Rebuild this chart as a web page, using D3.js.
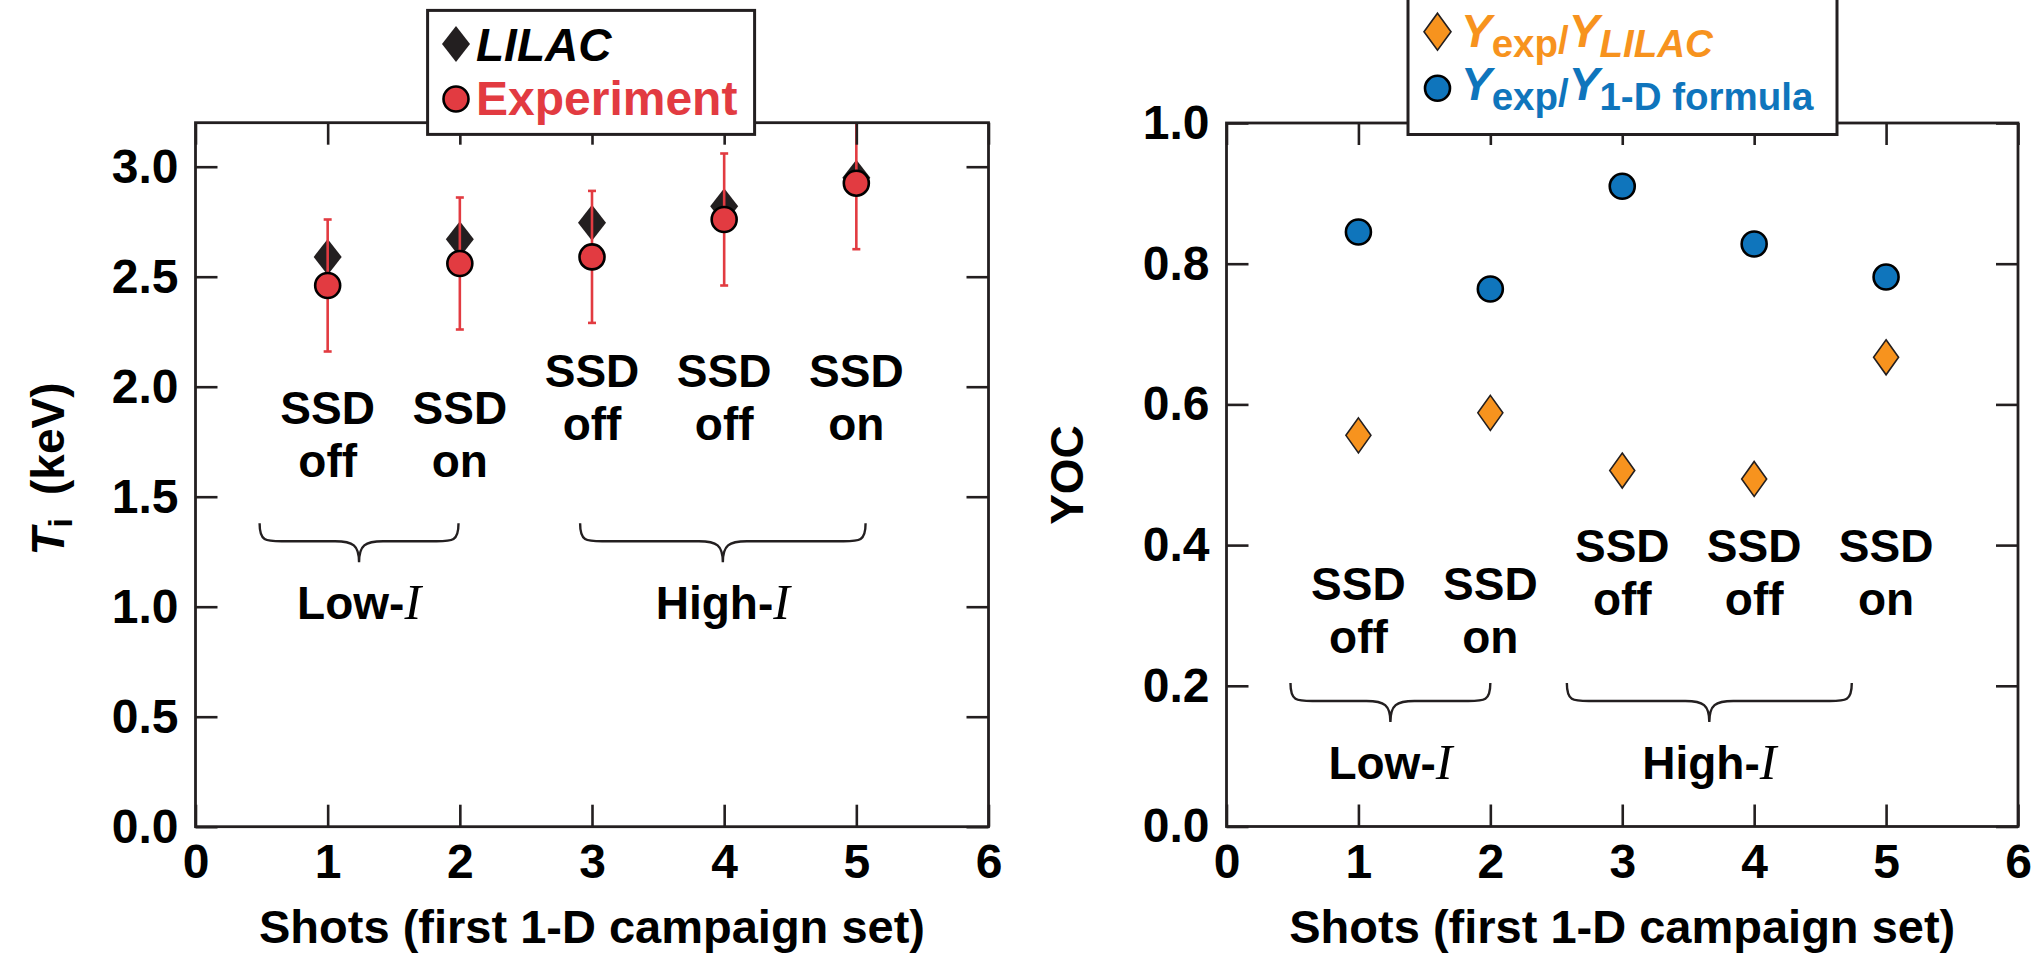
<!DOCTYPE html>
<html>
<head>
<meta charset="utf-8">
<script src="https://cdn.jsdelivr.net/npm/d3@7"></script>
<style>
	body { margin: 0; background: #fff; }
	text { font-family: 'Liberation Sans', Arial, Helvetica, sans-serif; font-weight: bold; }
</style>
</head>
<body>
<div id="chart"></div>
<script>
// values
let shots = [1, 2, 3, 4, 5]
let ssdState = ['off', 'on', 'off', 'off', 'on']
let tiLilac = [2.59, 2.67, 2.745, 2.82, 2.95]
let tiExp = [2.46, 2.56, 2.59, 2.76, 2.925]
let tiErr = [0.3, 0.3, 0.3, 0.3, 0.3]
let yocLilac = [0.556, 0.588, 0.506, 0.494, 0.667]
let yocFormula = [0.845, 0.764, 0.91, 0.828, 0.781]

let xTicks = [0, 1, 2, 3, 4, 5, 6]
let tiTicks = [0, 0.5, 1, 1.5, 2, 2.5, 3]
let yocTicks = [0, 0.2, 0.4, 0.6, 0.8, 1]

// SSD label height (data units) and intensity groups for each panel
let tiLabelY = [1.83, 1.83, 2.0, 2.0, 2.0]
let yocLabelY = [0.322, 0.322, 0.376, 0.376, 0.376]
let tiGroups = [
	{ name: 'Low-', from: 0.485, to: 1.99, top: 1.379 },
	{ name: 'High-', from: 2.91, to: 5.07, top: 1.379 },
]
let yocGroups = [
	{ name: 'Low-', from: 0.485, to: 2.0, top: 0.204 },
	{ name: 'High-', from: 2.58, to: 4.74, top: 0.204 },
]

let W = 2038
let H = 954
let ink = '#231f20'
let red = '#e23b41'
let orange = '#f7931e'
let blue = '#0f75bc'
let tickLen = 22
let lineH = 53

let svg = d3.select('#chart').append('svg:svg').attr('width', W).attr('height', H)

let diamond = (w, h) => `M0,${-h / 2}L${w / 2},0L0,${h / 2}L${-w / 2},0Z`

let drawFrame = (x, y, yTicks, yFmt) => {
	let [x0, x1] = x.range()
	let [y0, y1] = y.range()
	let style = g => {
		g.attr('font-size', 48).attr('font-family', null)
		g.selectAll('.domain').remove()
		g.selectAll('line').attr('stroke', ink).attr('stroke-width', 2.6)
		g.selectAll('text').attr('fill', '#000')
	}
	svg.append('g').attr('transform', `translate(0,${y0})`)
		.call(d3.axisBottom(x).tickValues(xTicks).tickSizeInner(-tickLen).tickSizeOuter(0).tickPadding(17).tickFormat(d3.format('d')))
		.call(style)
	svg.append('g').attr('transform', `translate(0,${y1})`)
		.call(d3.axisTop(x).tickValues(xTicks).tickSizeInner(-tickLen).tickSizeOuter(0).tickFormat(''))
		.call(style)
	svg.append('g').attr('transform', `translate(${x0},0)`)
		.call(d3.axisLeft(y).tickValues(yTicks).tickSizeInner(-tickLen).tickSizeOuter(0).tickPadding(17).tickFormat(yFmt))
		.call(style)
	svg.append('g').attr('transform', `translate(${x1},0)`)
		.call(d3.axisRight(y).tickValues(yTicks).tickSizeInner(-tickLen).tickSizeOuter(0).tickFormat(''))
		.call(style)
	svg.append('svg:rect')
		.attr('x', x0).attr('y', y1)
		.attr('width', x1 - x0).attr('height', y0 - y1)
		.attr('fill', 'none').attr('stroke', ink).attr('stroke-width', 2.8)
	svg.append('svg:text')
		.attr('x', x(3)).attr('y', 943)
		.attr('text-anchor', 'middle').attr('font-size', 47)
		.text('Shots (first 1-D campaign set)')
}

let drawNotes = (x, y, labelY, groups) => {
	shots.forEach((s, i) => {
		let t = svg.append('svg:text')
			.attr('text-anchor', 'middle').attr('font-size', 46)
		t.append('tspan').attr('x', x(s)).attr('y', y(labelY[i])).text('SSD')
		t.append('tspan').attr('x', x(s)).attr('dy', lineH).text(ssdState[i])
	})
	groups.forEach(gr => {
		let a = x(gr.from)
		let b = x(gr.to)
		let m = (a + b) / 2
		let t0 = y(gr.top)
		let f = t0 + 18
		let tip = t0 + 39
		let p = `M${a},${t0}C${a},${f} ${a + 6},${f} ${a + 22},${f}` +
			`L${m - 24},${f}C${m - 6},${f} ${m},${f + 4} ${m},${tip}` +
			`C${m},${f + 4} ${m + 6},${f} ${m + 24},${f}` +
			`L${b - 22},${f}C${b - 6},${f} ${b},${f} ${b},${t0}`
		svg.append('svg:path').attr('d', p)
			.attr('fill', 'none').attr('stroke', ink).attr('stroke-width', 2.4)
		let t = svg.append('svg:text')
			.attr('x', m).attr('y', t0 + 96)
			.attr('text-anchor', 'middle').attr('font-size', 46)
		t.append('tspan').text(gr.name)
		t.append('tspan')
			.style('font-family', "'Liberation Serif', 'Times New Roman', serif")
			.attr('font-style', 'italic').attr('font-weight', 'normal')
			.attr('font-size', 50)
			.text('I')
	})
}

// ---- left panel: ion temperature
let xL = d3.scaleLinear().domain([0, 6]).range([195.5, 988.5])
let yL = d3.scaleLinear().domain([0, 3.2]).range([826.7, 122.7])

drawNotes(xL, yL, tiLabelY, tiGroups)

svg.append('g').selectAll('path')
	.data(shots)
	.join('path')
	.attr('d', diamond(28, 36))
	.attr('transform', (d, i) => `translate(${xL(d)},${yL(tiLilac[i])})`)
	.attr('fill', ink)

let eb = svg.append('g').attr('stroke', red).attr('stroke-width', 2.6)
shots.forEach((s, i) => {
	let lo = tiExp[i] - tiErr[i]
	let hi = tiExp[i] + tiErr[i]
	let top = Math.min(hi, yL.domain()[1])
	eb.append('line').attr('x1', xL(s)).attr('x2', xL(s)).attr('y1', yL(lo)).attr('y2', yL(top))
	eb.append('line').attr('x1', xL(s) - 4).attr('x2', xL(s) + 4).attr('y1', yL(lo)).attr('y2', yL(lo))
	if (hi <= yL.domain()[1]) {
		eb.append('line').attr('x1', xL(s) - 4).attr('x2', xL(s) + 4).attr('y1', yL(hi)).attr('y2', yL(hi))
	}
})

svg.append('g').selectAll('circle')
	.data(shots)
	.join('circle')
	.attr('cx', d => xL(d))
	.attr('cy', (d, i) => yL(tiExp[i]))
	.attr('r', 12.5)
	.attr('fill', red).attr('stroke', '#000').attr('stroke-width', 2.6)

drawFrame(xL, yL, tiTicks, d3.format('.1f'))

let ylab = svg.append('svg:text')
	.attr('transform', 'translate(64,469) rotate(-90)')
	.attr('text-anchor', 'middle').attr('font-size', 46)
ylab.append('tspan').attr('font-style', 'italic').text('T')
ylab.append('tspan').attr('font-size', 34).attr('dy', 8).text('i')
ylab.append('tspan').attr('dy', -8).text('\u2002(keV)')

// left legend
svg.append('svg:rect')
	.attr('x', 427.6).attr('y', 10.4).attr('width', 327).attr('height', 124)
	.attr('fill', '#fff').attr('stroke', ink).attr('stroke-width', 3)
svg.append('svg:path').attr('d', diamond(28, 36))
	.attr('transform', 'translate(456,44)').attr('fill', ink)
svg.append('svg:circle').attr('cx', 456).attr('cy', 99).attr('r', 12.5)
	.attr('fill', red).attr('stroke', '#000').attr('stroke-width', 2.6)
svg.append('svg:text').attr('x', 476).attr('y', 61).attr('font-size', 46)
	.attr('font-style', 'italic').attr('fill', '#000').text('LILAC')
svg.append('svg:text').attr('x', 476).attr('y', 115).attr('font-size', 48)
	.attr('fill', red).text('Experiment')

// ---- right panel: yield over clean
let xR = d3.scaleLinear().domain([0, 6]).range([1226.5, 2018])
let yR = d3.scaleLinear().domain([0, 1]).range([826.5, 123])

drawNotes(xR, yR, yocLabelY, yocGroups)

svg.append('g').selectAll('path')
	.data(shots)
	.join('path')
	.attr('d', diamond(25, 35))
	.attr('transform', (d, i) => `translate(${xR(d)},${yR(yocLilac[i])})`)
	.attr('fill', orange).attr('stroke', ink).attr('stroke-width', 1.6)

svg.append('g').selectAll('circle')
	.data(shots)
	.join('circle')
	.attr('cx', d => xR(d))
	.attr('cy', (d, i) => yR(yocFormula[i]))
	.attr('r', 12.5)
	.attr('fill', blue).attr('stroke', '#000').attr('stroke-width', 2.6)

drawFrame(xR, yR, yocTicks, d3.format('.1f'))

svg.append('svg:text')
	.attr('transform', 'translate(1083,475) rotate(-90)')
	.attr('text-anchor', 'middle').attr('font-size', 46)
	.text('YOC')

// right legend
svg.append('svg:rect')
	.attr('x', 1408).attr('y', -3).attr('width', 429).attr('height', 137.5)
	.attr('fill', '#fff').attr('stroke', ink).attr('stroke-width', 3)
svg.append('svg:path').attr('d', diamond(27, 37))
	.attr('transform', 'translate(1437.5,31.7)')
	.attr('fill', orange).attr('stroke', ink).attr('stroke-width', 1.6)
svg.append('svg:circle').attr('cx', 1437.5).attr('cy', 88.3).attr('r', 12.5)
	.attr('fill', blue).attr('stroke', '#000').attr('stroke-width', 2.6)

let legendRatio = (yBase, color, sub, subItalic) => {
	let t = svg.append('svg:text').attr('x', 1461).attr('y', yBase)
		.attr('font-size', 46).attr('fill', color)
	t.append('tspan').attr('font-style', 'italic').text('Y')
	t.append('tspan').attr('font-size', 38.5).attr('dy', 10).text('exp')
	t.append('tspan').attr('font-size', 38.5).attr('dy', -4).text('/')
	t.append('tspan').attr('font-style', 'italic').attr('dy', -6).text('Y')
	t.append('tspan').attr('font-size', 38.5).attr('dy', 10)
		.attr('font-style', subItalic ? 'italic' : 'normal').text(sub)
}
legendRatio(46.7, orange, 'LILAC', true)
legendRatio(100, blue, '1-D formula', false)
</script>
</body>
</html>
